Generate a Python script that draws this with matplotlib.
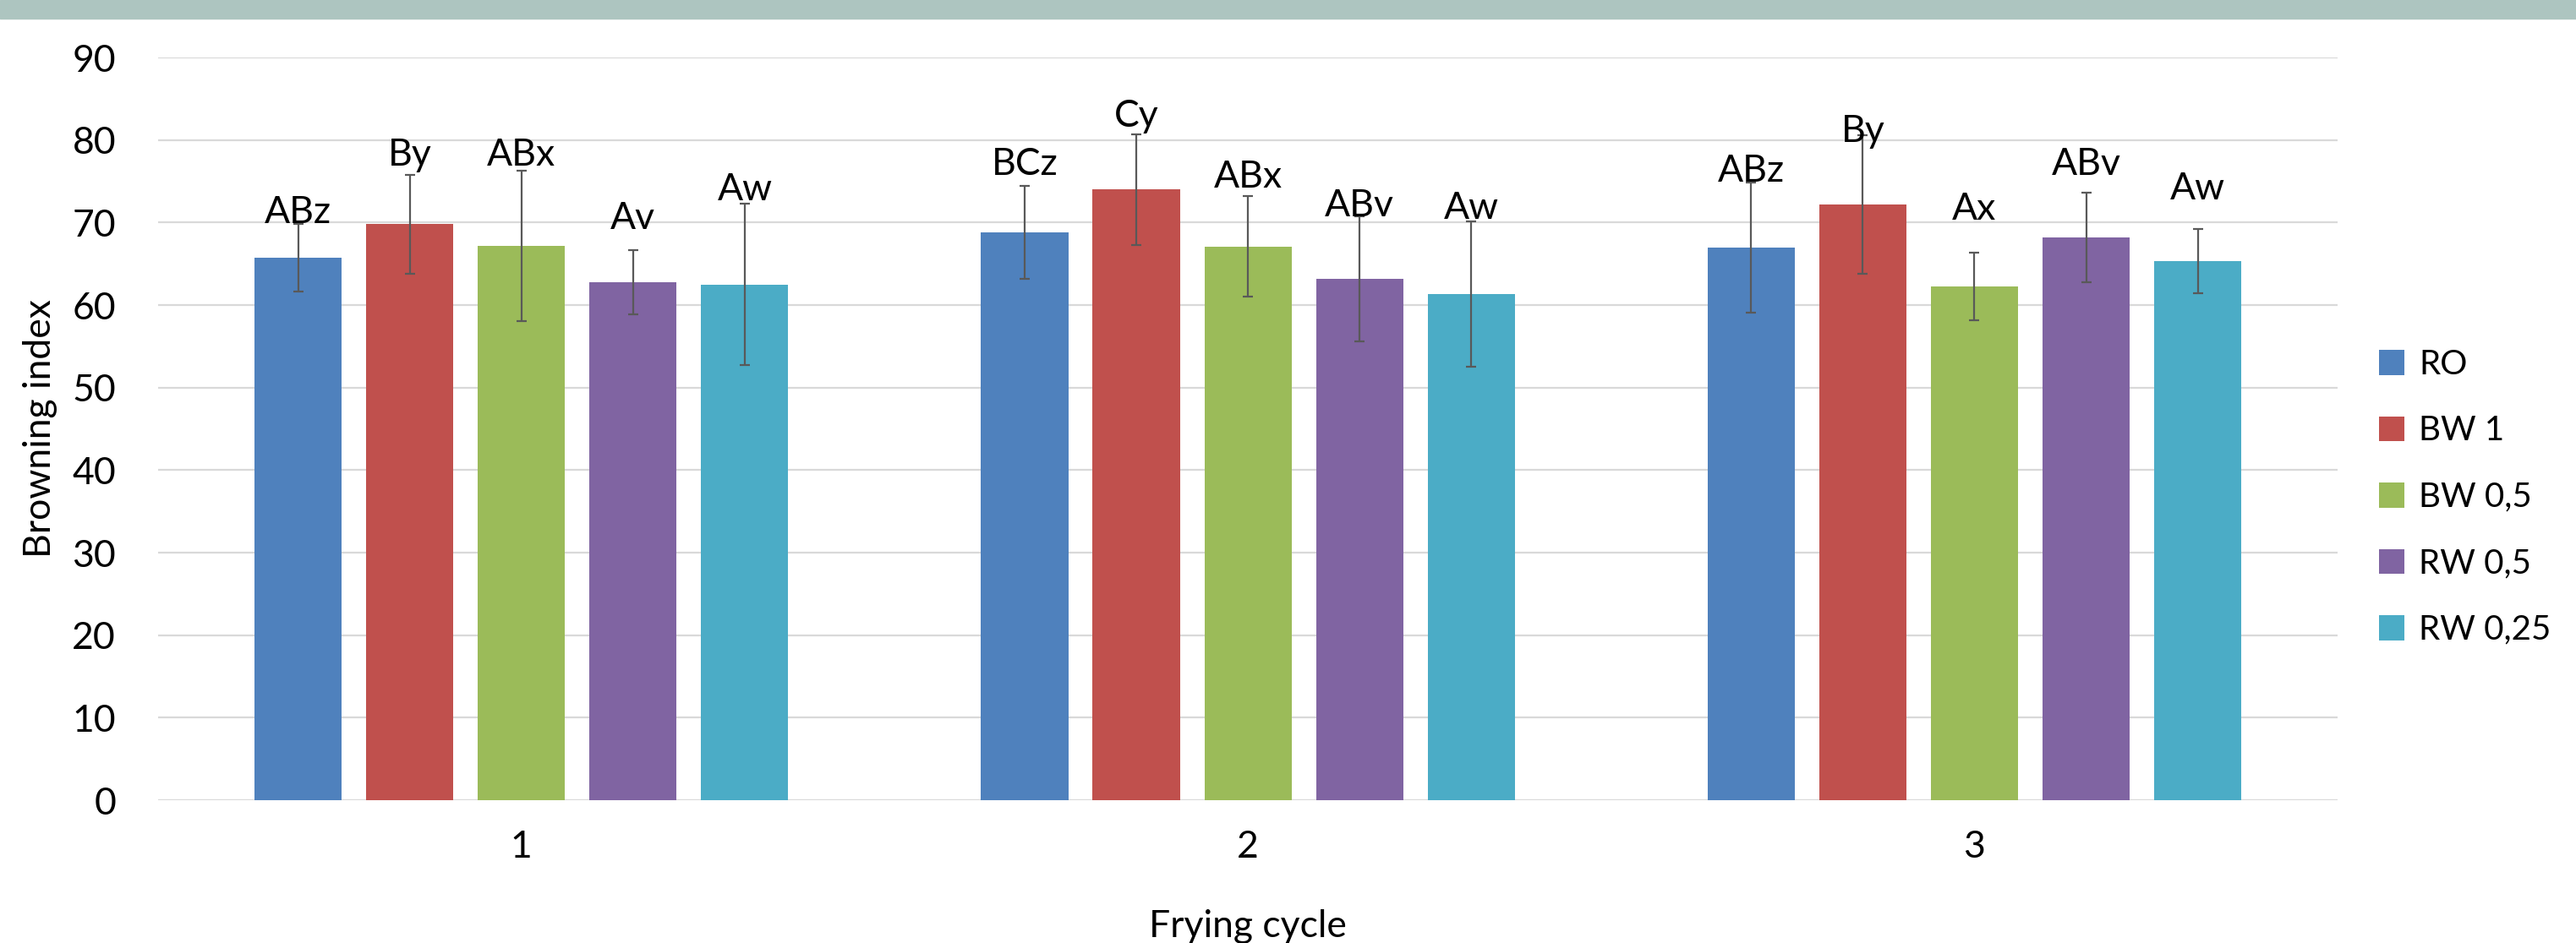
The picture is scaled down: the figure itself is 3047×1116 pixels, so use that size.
import matplotlib.pyplot as plt
import numpy as np

plt.rcParams['font.family'] = ['Lato', 'DejaVu Sans']

cycles = ['1', '2', '3']
series = ['RO', 'BW 1', 'BW 0,5', 'RW 0,5', 'RW 0,25']
colors = ['#4f81bd', '#c0504d', '#9bbb59', '#8064a2', '#4bacc6']

# mean browning index per series, one value per frying cycle
means = [
    [65.7, 68.8, 67.0],
    [69.8, 74.0, 72.2],
    [67.2, 67.1, 62.3],
    [62.8, 63.2, 68.2],
    [62.5, 61.3, 65.3],
]
errors = [
    [4.1, 5.6, 7.9],
    [6.0, 6.7, 8.4],
    [9.1, 6.1, 4.1],
    [3.9, 7.6, 5.4],
    [9.8, 8.8, 3.9],
]
letters = [
    ['ABz', 'BCz', 'ABz'],
    ['By', 'Cy', 'By'],
    ['ABx', 'ABx', 'Ax'],
    ['Av', 'ABv', 'ABv'],
    ['Aw', 'Aw', 'Aw'],
]
# height where each letter label sits
letter_y = [
    [69.9, 75.8, 75.0],
    [76.9, 81.6, 79.8],
    [76.9, 74.2, 70.3],
    [69.2, 70.8, 75.8],
    [72.7, 70.4, 72.8],
]

fig = plt.figure(figsize=(30.47, 11.16), dpi=100)
ax = fig.add_axes([0.0614, 0.1514, 0.8461, 0.7876])

x = np.arange(1, len(cycles) + 1)
pitch = 0.1537
width = 0.12

for i, name in enumerate(series):
    pos = x + (i - 2) * pitch
    ax.bar(pos, means[i], width, color=colors[i], label=name, zorder=2,
           yerr=errors[i], error_kw=dict(ecolor='#595959', elinewidth=1.6,
                                         capsize=4.5, capthick=1.6))
    for j in range(len(cycles)):
        ax.text(pos[j], letter_y[i][j], letters[i][j], ha='center',
                va='baseline', fontsize=32, zorder=3)

ax.set_xlim(0.5, 3.5)
ax.set_ylim(0, 90)
ax.set_yticks(np.arange(0, 91, 10))
ax.set_xticks(x)
ax.set_xticklabels(cycles)
ax.yaxis.grid(True, color='#d9d9d9', linewidth=1.6, zorder=0)
ax.set_axisbelow(True)
for s in ax.spines.values():
    s.set_visible(False)
ax.tick_params(axis='both', length=0, labelsize=32)
ax.tick_params(axis='y', pad=36)
ax.tick_params(axis='x', pad=25)

ax.set_xlabel('Frying cycle', fontsize=32, labelpad=38)
ax.set_ylabel('Browning index', fontsize=32, labelpad=6)
ax.yaxis.set_label_coords(-0.046, 0.5)

fig.legend(loc='upper left', bbox_to_anchor=(0.9235, 0.630), frameon=False,
           fontsize=29, handlelength=0.75, handleheight=0.75,
           handletextpad=0.42, labelspacing=1.03, borderpad=0,
           borderaxespad=0)

# header strip at the top of the figure
fig.patches.append(plt.Rectangle((0, 1 - 22 / 1116), 1, 22 / 1116,
                                 transform=fig.transFigure,
                                 color='#adc5c0', zorder=0))

fig.savefig('out.png', dpi=100)
